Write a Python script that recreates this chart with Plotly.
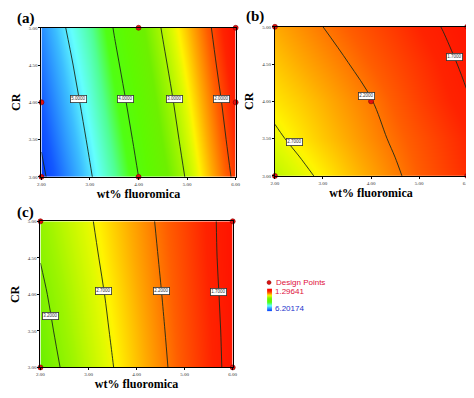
import plotly.graph_objects as go

# ---- data ----
x_wt = [2.0, 2.5, 3.0, 3.5, 4.0, 4.5, 5.0, 5.5, 6.0]
y_cr = [3.0, 3.5, 4.0, 4.5, 5.0]

z_a = [
    [6.10, 5.58, 5.05, 4.53, 4.00, 3.47, 2.95, 2.42, 1.90],
    [5.95, 5.43, 4.92, 4.39, 3.87, 3.34, 2.83, 2.31, 1.80],
    [5.80, 5.29, 4.79, 4.25, 3.74, 3.22, 2.72, 2.21, 1.71],
    [5.65, 5.15, 4.66, 4.11, 3.60, 3.09, 2.60, 2.10, 1.61],
    [5.50, 5.00, 4.53, 3.97, 3.47, 2.96, 2.48, 2.00, 1.52],
]
z_b = [
    [2.92, 2.78, 2.65, 2.51, 2.38, 2.24, 2.10, 1.97, 1.84],
    [2.75, 2.63, 2.51, 2.40, 2.28, 2.16, 2.04, 1.92, 1.80],
    [2.62, 2.53, 2.43, 2.32, 2.21, 2.08, 1.95, 1.83, 1.72],
    [2.51, 2.41, 2.31, 2.21, 2.10, 1.99, 1.88, 1.77, 1.65],
    [2.40, 2.30, 2.20, 2.10, 2.00, 1.90, 1.79, 1.69, 1.59],
]
z_c = [
    [3.38, 3.16, 2.93, 2.71, 2.49, 2.27, 2.04, 1.82, 1.60],
    [3.32, 3.10, 2.88, 2.67, 2.46, 2.24, 2.02, 1.81, 1.59],
    [3.26, 3.05, 2.84, 2.63, 2.42, 2.21, 2.00, 1.79, 1.58],
    [3.19, 2.99, 2.79, 2.58, 2.38, 2.18, 1.98, 1.77, 1.57],
    [3.13, 2.93, 2.74, 2.54, 2.35, 2.15, 1.96, 1.76, 1.57],
]
levels_a = (2.0, 6.0, 1.0)
levels_b = (1.7, 2.7, 0.5)
levels_c = (1.7, 3.2, 0.5)

# contour label positions / texts
lab_a_x = [2.77, 3.74, 4.73, 5.70]; lab_a_y = [4.05, 4.05, 4.05, 4.05]
lab_a_t = ["5.0000", "4.0000", "3.0000", "2.0000"]
lab_b_x = [2.41, 3.90, 5.73]; lab_b_y = [3.45, 4.07, 4.60]
lab_b_t = ["2.7000", "2.2000", "1.7000"]
lab_c_x = [2.20, 3.31, 4.51, 5.71]; lab_c_y = [3.70, 4.05, 4.05, 4.03]
lab_c_t = ["3.2000", "2.7000", "2.2000", "1.7000"]

dp_a_x = [2, 4, 2, 6, 4, 6]; dp_a_y = [3, 3, 4, 4, 5, 5]
dp_b_x = [2, 6, 4, 2, 6]; dp_b_y = [5, 5, 4, 3, 3]
dp_c_x = [2, 6, 2, 6]; dp_c_y = [5, 5, 3, 3]

z_min, z_max = 1.29641, 6.20174
x_ticks = [2.0, 3.0, 4.0, 5.0, 6.0]
y_ticks = [3.0, 3.5, 4.0, 4.5, 5.0]

colorscale = [
    [0.00, "rgb(255,0,0)"],
    [0.10, "rgb(255,35,0)"],
    [0.165, "rgb(255,95,0)"],
    [0.225, "rgb(255,170,0)"],
    [0.28, "rgb(255,245,0)"],
    [0.30, "rgb(225,250,0)"],
    [0.36, "rgb(160,245,0)"],
    [0.42, "rgb(110,240,0)"],
    [0.50, "rgb(95,250,0)"],
    [0.59, "rgb(80,255,20)"],
    [0.655, "rgb(80,255,150)"],
    [0.735, "rgb(100,255,255)"],
    [0.80, "rgb(60,190,255)"],
    [0.92, "rgb(20,90,255)"],
    [1.00, "rgb(0,50,255)"],
]

fig = go.Figure()

panels = [
    ("x", "y", z_a, levels_a, dp_a_x, dp_a_y, lab_a_x, lab_a_y, lab_a_t),
    ("x2", "y2", z_b, levels_b, dp_b_x, dp_b_y, lab_b_x, lab_b_y, lab_b_t),
    ("x3", "y3", z_c, levels_c, dp_c_x, dp_c_y, lab_c_x, lab_c_y, lab_c_t),
]
annotations = []
for xa, ya, z, lev, dx_, dy_, lx, ly, lt in panels:
    fig.add_trace(go.Contour(
        x=x_wt, y=y_cr, z=z, xaxis=xa, yaxis=ya,
        colorscale=colorscale, zmin=z_min, zmax=z_max, showscale=False,
        contours=dict(coloring="heatmap", start=lev[0], end=lev[1], size=lev[2]),
        line=dict(color="#1a2a1a", width=0.9), hoverinfo="skip",
    ))
    fig.add_trace(go.Scatter(
        x=dx_, y=dy_, xaxis=xa, yaxis=ya, mode="markers", cliponaxis=False,
        marker=dict(color="#e01010", size=5, line=dict(color="#800000", width=0.6)),
        showlegend=False, hoverinfo="skip",
    ))
    for tx, ty, tt in zip(lx, ly, lt):
        annotations.append(dict(
            x=tx, y=ty, xref=xa, yref=ya, text=tt, showarrow=False,
            font=dict(size=4.5, color="#333", family="Arial"),
            bgcolor="white", bordercolor="#333", borderwidth=0.8, borderpad=0.5,
        ))

# colour bar strip
fig.add_trace(go.Heatmap(
    z=[[z_max, z_max], [z_min, z_min]], y=[0, 1], x=[0, 1],
    xaxis="x4", yaxis="y4", colorscale=colorscale, zmin=z_min, zmax=z_max,
    zsmooth="best", showscale=False, hoverinfo="skip",
))
fig.add_trace(go.Scatter(
    x=[0.5], y=[0.5], xaxis="x5", yaxis="y5", mode="markers",
    marker=dict(color="#e01010", size=4, line=dict(color="#800000", width=0.5)),
    showlegend=False, hoverinfo="skip",
))

W, H = 474, 398
def dx(a, b):
    return [a / W, b / W]
def dy(top, bottom):
    return [1 - bottom / H, 1 - top / H]

axis_common = dict(
    showgrid=False, zeroline=False, showline=True, linecolor="black", linewidth=1,
    mirror=True, ticks="outside", ticklen=2, tickcolor="black",
    tickfont=dict(size=5, color="#333", family="Liberation Serif"),
    tickformat=".2f",
)
xt = dict(text="wt% fluoromica", font=dict(size=12, family="Liberation Serif", color="black", weight="bold"), standoff=2)
yt = dict(text="CR", font=dict(size=12, family="Liberation Serif", color="black", weight="bold"), standoff=5)

layout = dict(
    width=W, height=H, margin=dict(l=0, r=0, t=0, b=0),
    paper_bgcolor="white", plot_bgcolor="white", showlegend=False,
    xaxis=dict(domain=dx(30, 228), range=[2, 6], tickvals=x_ticks, anchor="y", title=xt, **axis_common),
    yaxis=dict(domain=dy(18, 169), range=[3, 5], tickvals=y_ticks, anchor="x", title=yt, **axis_common),
    xaxis2=dict(domain=dx(268, 464), range=[2, 6], tickvals=x_ticks, anchor="y2", title=xt, **axis_common),
    yaxis2=dict(domain=dy(17, 168), range=[3, 5], tickvals=y_ticks, anchor="x2", title=yt, **axis_common),
    xaxis3=dict(domain=dx(29, 225), range=[2, 6], tickvals=x_ticks, anchor="y3", title=xt, **axis_common),
    yaxis3=dict(domain=dy(214, 362), range=[3, 5], tickvals=y_ticks, anchor="x3", title=yt, **axis_common),
    xaxis4=dict(domain=dx(260, 265), range=[0, 1], visible=False, anchor="y4"),
    yaxis4=dict(domain=dy(282, 305), range=[0, 1], visible=False, anchor="x4"),
    xaxis5=dict(domain=dx(259, 265), range=[0, 1], visible=False, anchor="y5"),
    yaxis5=dict(domain=dy(273, 279), range=[0, 1], visible=False, anchor="x5"),
)
fig.update_layout(**layout)

for txt, px, py in [("(a)", 3, 9), ("(b)", 236, 7), ("(c)", 3, 205)]:
    annotations.append(dict(x=px / W, y=1 - py / H, xref="paper", yref="paper",
                            text="<b>" + txt + "</b>", showarrow=False, xanchor="left", yanchor="middle",
                            font=dict(size=15, family="Liberation Serif", color="black")))
annotations.append(dict(x=267 / W, y=1 - 276 / H, xref="paper", yref="paper", text="Design Points",
                        showarrow=False, xanchor="left", yanchor="middle",
                        font=dict(size=8, family="Liberation Sans", color="#e0103a")))
annotations.append(dict(x=266 / W, y=1 - 285 / H, xref="paper", yref="paper", text=f"{z_min:.5f}",
                        showarrow=False, xanchor="left", yanchor="middle",
                        font=dict(size=8, family="Liberation Sans", color="#e0103a")))
annotations.append(dict(x=266 / W, y=1 - 302 / H, xref="paper", yref="paper", text=f"{z_max:.5f}",
                        showarrow=False, xanchor="left", yanchor="middle",
                        font=dict(size=8, family="Liberation Sans", color="#2233cc")))
fig.update_layout(annotations=annotations)

fig.write_html("out.html")
